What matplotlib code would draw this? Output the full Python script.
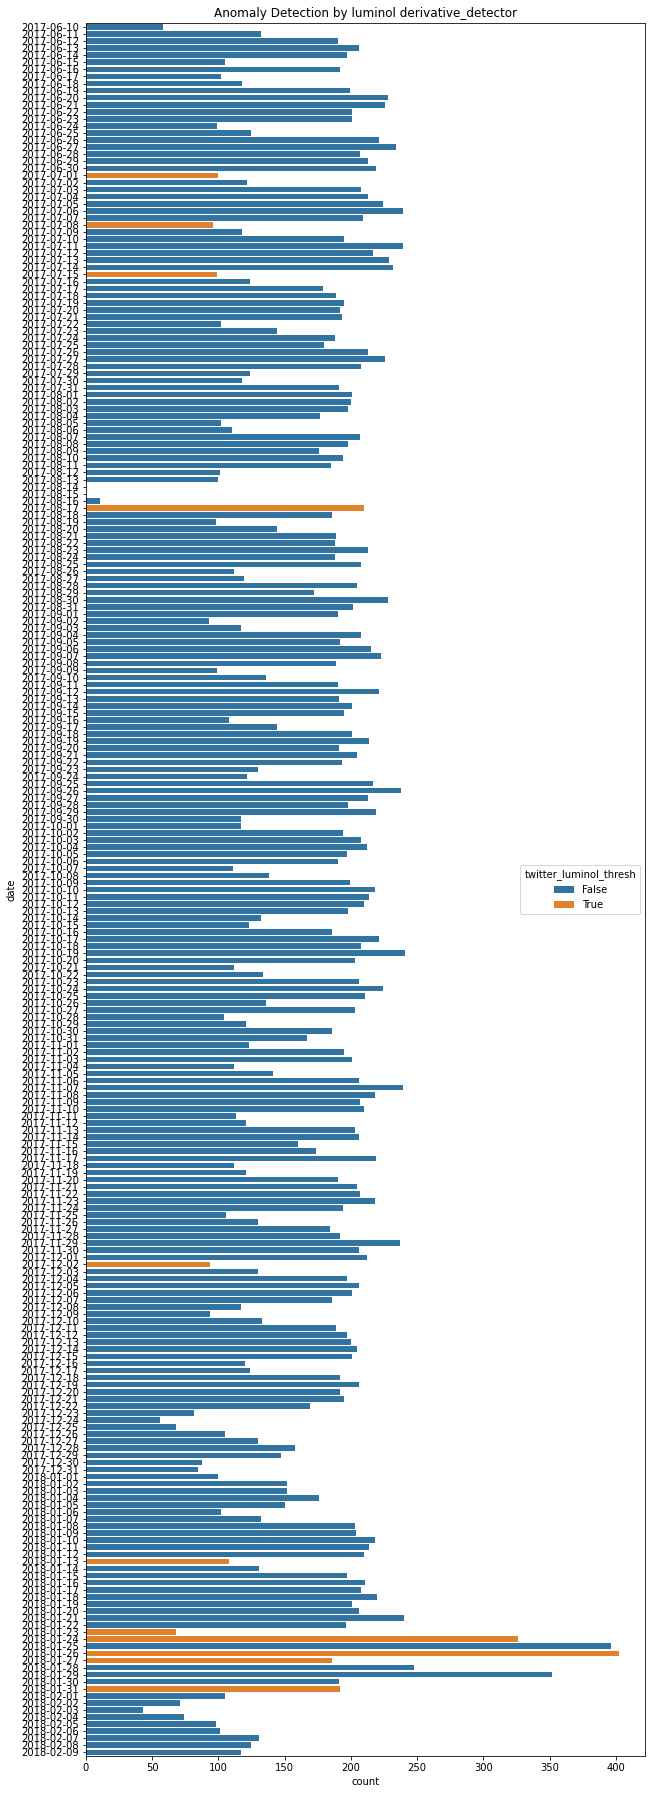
import numpy as np
import pandas as pd
import matplotlib
matplotlib.use('Agg')
import matplotlib.pyplot as plt
import seaborn as sns

# daily counts, 2017-06-10 .. 2018-02-09
dates = pd.date_range('2017-06-10', '2018-02-09').strftime('%Y-%m-%d').tolist()

counts = [
    # 2017-06-10 .. 06-30
    58, 132, 190, 206, 197, 105, 192, 102, 118, 199, 228, 226, 201, 201, 99, 125, 221, 234, 207, 213, 219,
    # 2017-07
    100, 122, 208, 213, 224, 239, 209, 96, 118, 195, 239, 217, 229, 232, 99, 124, 179, 189, 195, 192,
    193, 102, 144, 188, 180, 213, 226, 208, 124, 118, 191,
    # 2017-08
    201, 200, 198, 177, 102, 110, 207, 198, 176, 194, 185, 101, 100, 0, 0, 11, 210, 186, 98, 144,
    189, 188, 213, 188, 208, 112, 119, 205, 172, 228, 202,
    # 2017-09
    190, 93, 117, 208, 192, 215, 223, 189, 99, 136, 190, 221, 191, 201, 195, 108, 144, 201, 214, 191,
    205, 193, 130, 122, 217, 238, 213, 198, 219, 117,
    # 2017-10
    117, 194, 208, 212, 197, 190, 111, 138, 199, 218, 214, 210, 198, 132, 123, 186, 221, 208, 241, 203,
    112, 134, 206, 224, 211, 136, 203, 104, 121, 186, 167,
    # 2017-11
    123, 195, 201, 112, 141, 206, 239, 218, 207, 210, 113, 121, 203, 206, 160, 174, 219, 112, 121, 190,
    205, 207, 218, 194, 106, 130, 184, 192, 237, 206,
    # 2017-12
    212, 94, 130, 197, 206, 201, 186, 117, 94, 133, 189, 197, 200, 205, 201, 120, 124, 192, 206, 192,
    195, 169, 82, 56, 68, 105, 130, 158, 147, 88, 85,
    # 2018-01
    100, 152, 152, 176, 150, 102, 132, 203, 204, 218, 214, 210, 108, 131, 197, 211, 208, 220, 201, 206,
    240, 196, 68, 326, 396, 402, 186, 248, 352, 191, 192,
    # 2018-02-01 .. 02-09
    105, 71, 43, 74, 98, 101, 131, 125, 117,
]

anomaly_dates = ['2017-07-01', '2017-07-08', '2017-07-15', '2017-08-17', '2017-12-02',
                 '2018-01-13', '2018-01-23', '2018-01-24', '2018-01-26', '2018-01-27',
                 '2018-01-31']

assert len(counts) == len(dates)

df = pd.DataFrame({'date': dates, 'count': counts})
df['twitter_luminol_thresh'] = df['date'].isin(anomaly_dates)

# reference was drawn at 72 dpi
fig, ax = plt.subplots(figsize=(655 / 72, 1800 / 72), dpi=72)
sns.barplot(data=df, x='count', y='date', hue='twitter_luminol_thresh',
            dodge=False, orient='h', ax=ax)
ax.set_title('Anomaly Detection by luminol derivative_detector')
ax.legend(title='twitter_luminol_thresh', loc='center right')

fig.subplots_adjust(left=0.131, right=0.985, top=0.987, bottom=0.0245)
fig.savefig('out.png', dpi=72)
